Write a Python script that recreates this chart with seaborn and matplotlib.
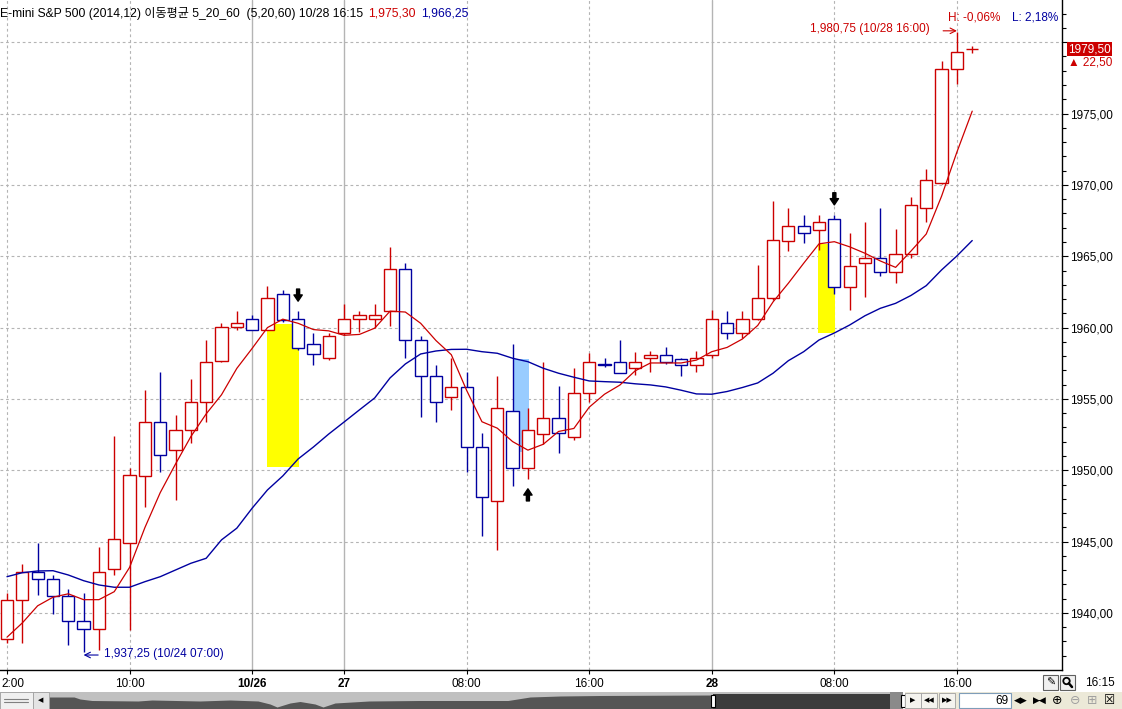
import numpy as np
import pandas as pd
import matplotlib
matplotlib.use('Agg')
import matplotlib.pyplot as plt
from matplotlib.patches import Rectangle, Circle
from matplotlib.transforms import ScaledTranslation
from matplotlib import font_manager
import seaborn as sns

# E-mini S&P 500 (2014.12), hourly bars 10/24 02:00 .. 10/28 16:15
opens = [1938.2, 1940.9, 1942.9, 1942.35,
         1941.2, 1939.4, 1938.85, 1943.1, 1944.9,
         1949.6, 1953.35, 1951.4, 1952.85, 1954.8,
         1957.65, 1960.05, 1960.6, 1959.85, 1962.35,
         1960.6, 1958.85, 1957.85, 1959.6, 1960.6,
         1960.6, 1961.15, 1964.1, 1959.15, 1956.6,
         1955.1, 1955.85, 1951.6, 1947.85, 1954.15,
         1950.15, 1952.55, 1953.65, 1952.35, 1955.4,
         1957.42, 1957.6, 1957.15, 1957.85, 1958.1,
         1957.8, 1957.4, 1958.1, 1960.35, 1959.6,
         1960.6, 1962.1, 1966.1, 1967.1, 1966.85,
         1967.6, 1962.85, 1964.55, 1964.85, 1963.9,
         1965.15, 1968.35, 1970.1, 1978.1, 1979.5]
highs = [1941.4, 1943.4, 1944.9, 1942.65,
         1941.65, 1941.4, 1944.6, 1952.4, 1950.15,
         1955.6, 1956.9, 1953.9, 1956.4, 1959.1,
         1960.35, 1961.15, 1960.9, 1962.9, 1962.65,
         1961.15, 1959.6, 1959.6, 1961.65, 1961.15,
         1961.65, 1965.65, 1964.55, 1959.4, 1957.4,
         1957.85, 1956.9, 1952.6, 1956.6, 1958.85,
         1954.35, 1957.6, 1955.9, 1957.15, 1958.2,
         1957.9, 1959.1, 1958.3, 1958.35, 1958.65,
         1957.85, 1958.35, 1961.2, 1961.15, 1961.15,
         1964.4, 1968.85, 1968.35, 1967.9, 1967.9,
         1967.9, 1966.65, 1967.4, 1968.35, 1966.9,
         1969.15, 1971.1, 1978.65, 1980.75, 1979.75]
lows = [1937.9, 1937.9, 1941.25, 1939.9,
        1937.75, 1937.25, 1937.4, 1942.65, 1938.8,
        1947.45, 1949.85, 1947.95, 1951.9, 1953.4,
        1957.6, 1959.85, 1959.85, 1959.8, 1960.4,
        1958.4, 1957.4, 1957.7, 1959.5, 1959.7,
        1959.95, 1960.1, 1957.9, 1953.7, 1953.4,
        1954.25, 1949.9, 1945.4, 1944.4, 1948.9,
        1949.4, 1951.85, 1951.2, 1952.15, 1954.8,
        1957.25, 1956.85, 1956.65, 1956.9, 1957.45,
        1956.6, 1956.9, 1957.9, 1959.2, 1959.25,
        1960.5, 1961.9, 1965.4, 1965.9, 1965.45,
        1962.35, 1961.25, 1962.15, 1963.65, 1963.15,
        1964.85, 1967.4, 1970.05, 1977.1, 1979.25]
closes = [1940.9, 1942.85, 1942.35, 1941.2,
          1939.4, 1938.85, 1942.85, 1945.15, 1949.65,
          1953.35, 1951.1, 1952.85, 1954.8, 1957.6,
          1960.05, 1960.35, 1959.85, 1962.1, 1960.55,
          1958.6, 1958.15, 1959.4, 1960.6, 1960.85,
          1960.85, 1964.1, 1959.15, 1956.6, 1954.8,
          1955.85, 1951.6, 1948.1, 1954.35, 1950.15,
          1952.85, 1953.65, 1952.6, 1955.4, 1957.6,
          1957.38, 1956.85, 1957.6, 1958.1, 1957.6,
          1957.4, 1957.85, 1960.6, 1959.6, 1960.6,
          1962.1, 1966.15, 1967.1, 1966.6, 1967.4,
          1962.85, 1964.35, 1964.85, 1963.9, 1965.15,
          1968.6, 1970.35, 1978.1, 1979.35, 1979.5]
ma5 = [1938.3, 1939.3, 1940.5, 1941.1,
       1941.34, 1940.93, 1940.93, 1941.49, 1943.19,
       1945.98, 1948.43, 1950.44, 1952.36, 1953.95,
       1955.29, 1957.14, 1958.54, 1960.00, 1960.59,
       1960.30, 1959.86, 1959.77, 1959.46, 1959.52,
       1959.96, 1961.15, 1961.09, 1960.30, 1959.09,
       1958.10, 1955.60, 1953.40, 1952.95, 1952.01,
       1951.41, 1951.82, 1952.72, 1952.93, 1954.42,
       1955.33, 1955.97, 1956.97, 1957.52, 1957.52,
       1957.52, 1957.72, 1958.31, 1958.61, 1959.20,
       1960.15, 1961.80, 1963.11, 1964.51, 1965.87,
       1966.02, 1965.66, 1965.21, 1964.67, 1964.22,
       1965.36, 1966.56, 1969.21, 1972.30, 1975.17]
ma20 = [1942.54, 1942.82, 1942.94, 1942.96,
        1942.66, 1942.26, 1941.96, 1941.80, 1941.80,
        1942.19, 1942.54, 1943.01, 1943.48, 1943.83,
        1945.12, 1945.94, 1947.34, 1948.62, 1949.60,
        1950.79, 1951.63, 1952.54, 1953.38, 1954.23,
        1955.07, 1956.47, 1957.45, 1958.15, 1958.36,
        1958.47, 1958.48, 1958.31, 1958.20, 1957.85,
        1957.61, 1957.15, 1956.80, 1956.52, 1956.26,
        1956.21, 1956.17, 1956.06, 1955.98, 1955.84,
        1955.61, 1955.35, 1955.33, 1955.52, 1955.80,
        1956.12, 1956.80, 1957.68, 1958.31, 1959.13,
        1959.62, 1960.18, 1960.83, 1961.35, 1961.70,
        1962.25, 1962.94, 1964.04, 1965.02, 1966.10]

tick_pos = [0, 8, 16, 22, 30, 38, 46, 54, 62]
tick_labels = ['2:00', '10:00', '10/26', '27', '08:00', '16:00', '28', '08:00', '16:00']
day_ticks = ['10/26', '27', '28']
price_ticks = [1940, 1945, 1950, 1955, 1960, 1965, 1970, 1975, 1980]

# (first bar, last bar, low, high, colour)
signal_zones = [(17.0, 19.05, 1950.2, 1960.25, '#ffff00'),
                (33.0, 34.05, 1951.25, 1957.8, '#99ccff'),
                (52.95, 54.05, 1959.6, 1965.85, '#ffff00')]
signal_arrows = [(19, 'down'), (34, 'up'), (54, 'down')]
hi_time, lo_time = '10/28 16:00', '10/24 07:00'
change = 22.50

RED = '#cc0000'
BLUE = '#0000a0'
GRID = '#b4b4b4'
FS = 8.5

sns.set_style('white')
plt.rcParams['font.family'] = ['Liberation Sans', 'Noto Sans CJK KR', 'DejaVu Sans']
plt.rcParams['text.color'] = 'black'

W, H = 1122, 709
fig = plt.figure(figsize=(W / 100, H / 100), dpi=100)
ax = fig.add_axes([0, 39 / H, 1062 / W, 670 / H])


def kfmt(v, sep=True):
    s = f'{v:,.2f}' if sep else f'{v:.2f}'
    return s.replace('.', ',')


df = pd.DataFrame({'open': opens, 'high': highs, 'low': lows, 'close': closes,
                   'ma5': ma5, 'ma20': ma20})
df['bar'] = np.arange(len(df))
colors = np.where(df['close'] >= df['open'], RED, BLUE)

for x0, x1, y0, y1, c in signal_zones:
    ax.add_patch(Rectangle((x0, y0), x1 - x0, y1 - y0, facecolor=c,
                           edgecolor='none', zorder=1))

ax.vlines(df['bar'], df['low'], df['high'], colors=colors, lw=1, zorder=2)
body = np.maximum((df['close'] - df['open']).abs(), 0.01)
ax.bar(df['bar'], body, bottom=df[['open', 'close']].min(axis=1), width=0.8,
       facecolor='white', edgecolor=colors, linewidth=1, zorder=2.5)

sns.lineplot(data=df, x='bar', y='ma20', color=BLUE, lw=1.0, ax=ax, zorder=3)
sns.lineplot(data=df, x='bar', y='ma5', color=RED, lw=0.9, ax=ax, zorder=3)

for i, kind in signal_arrows:
    if kind == 'down':
        tip, tail = highs[i] + 0.7, highs[i] + 1.55
    else:
        tip, tail = lows[i] - 0.7, lows[i] - 1.55
    ax.annotate('', xy=(i, tip), xytext=(i, tail),
                arrowprops=dict(arrowstyle='simple,head_length=0.45,head_width=0.6,tail_width=0.22',
                                color='black', shrinkA=0, shrinkB=0), zorder=4)

# grid
for p, lab in zip(tick_pos, tick_labels):
    if lab in day_ticks:
        ax.axvline(p, color=GRID, lw=1, zorder=0)
    else:
        ax.axvline(p, color=GRID, lw=0.8, ls=(0, (2.5, 2.5)), zorder=0)
for y in price_ticks:
    ax.axhline(y, color=GRID, lw=0.8, ls=(0, (2.5, 2.5)), zorder=0)

ax.set_xlim(-0.457, 68.86)
ax.set_ylim(1936.0, 1982.96)
ax.set_xlabel('')
ax.set_ylabel('')
ax.yaxis.tick_right()
ax.set_yticks(price_ticks)
ax.set_yticklabels([kfmt(v, False) for v in price_ticks[:-1]] + [''])
ax.set_yticks(np.arange(1937, 1983), minor=True)
ax.tick_params(axis='y', which='major', direction='out', length=4, width=0.8,
               labelsize=FS, pad=1.5, right=True, left=False, colors='black')
ax.tick_params(axis='y', which='minor', direction='out', length=3, width=0.8,
               right=True, left=False, colors='black')
ax.set_xticks(tick_pos)
ax.set_xticklabels(tick_labels)
ax.tick_params(axis='x', direction='out', length=3, width=0.8, labelsize=FS,
               pad=3, bottom=True, colors='black')
for t in ax.get_xticklabels():
    if t.get_text() in day_ticks:
        t.set_fontweight('bold')
first = ax.get_xticklabels()[0]
first.set_horizontalalignment('left')
first.set_transform(first.get_transform() + ScaledTranslation(-6 / 100, 0, fig.dpi_scale_trans))
for s in ['left', 'top']:
    ax.spines[s].set_visible(False)
for s in ['right', 'bottom']:
    ax.spines[s].set_color('black')
    ax.spines[s].set_linewidth(1)

# high / low marks
hi_i = int(np.argmax(highs))
lo_i = int(np.argmin(lows))
hy = highs[hi_i] + 0.05
ax.annotate('', xy=(hi_i, hy), xytext=(hi_i - 0.9, hy),
            arrowprops=dict(arrowstyle='->', color=RED, lw=0.8, shrinkA=0, shrinkB=0))
ax.text(hi_i - 1.75, hy + 0.12, f'{kfmt(highs[hi_i])} ({hi_time})', color=RED,
        ha='right', va='center', fontsize=FS)
ly = lows[lo_i] - 0.2
ax.annotate('', xy=(lo_i, ly), xytext=(lo_i + 0.95, ly),
            arrowprops=dict(arrowstyle='->', color=BLUE, lw=0.8, shrinkA=0, shrinkB=0))
ax.text(lo_i + 1.33, ly + 0.06, f'{kfmt(lows[lo_i])} ({lo_time})', color=BLUE,
        ha='left', va='center', fontsize=FS)

last = closes[-1]
ytr = ax.get_yaxis_transform()
ax.text(1.0057, last, kfmt(last, False), transform=ytr, color='white', fontsize=FS,
        ha='left', va='center',
        bbox=dict(boxstyle='square,pad=0.08', fc=RED, ec='none'))
ax.text(1.0057, last - 0.9, f'▲ {kfmt(change)}', transform=ytr, color=RED,
        fontsize=FS, ha='left', va='center')

# header
hdr = fig.text(0, 1 - 13 / H,
               'E-mini S&P 500 (2014,12) 이동평균 5_20_60  (5,20,60) 10/28 16:15',
               fontsize=8.7, va='center', ha='left')
t2 = ax.annotate(kfmt(ma5[-1] + 0.13), xy=(1, 0.5), xycoords=hdr, xytext=(5, 0),
                 textcoords='offset pixels', va='center', color=RED, fontsize=8.7)
ax.annotate(kfmt(ma20[-1] + 0.15), xy=(1, 0.5), xycoords=t2, xytext=(5, 0),
            textcoords='offset pixels', va='center', color=BLUE, fontsize=8.7)

h_pct = (last - max(highs)) / max(highs) * 100
l_pct = (last - min(lows)) / min(lows) * 100
fig.text(948 / W, 1 - 17 / H, f'H: {kfmt(h_pct)}%', color=RED, fontsize=FS, va='center')
fig.text(1012 / W, 1 - 17 / H, f'L: {kfmt(l_pct)}%', color=BLUE, fontsize=FS, va='center')

# window chrome: scroll strip and buttons (pixel coordinates)
ui = fig.add_axes([0, 0, 1, 1], zorder=5)
ui.set_xlim(0, W)
ui.set_ylim(H, 0)
ui.axis('off')
ui.set_facecolor('none')

scroll_x = [49, 74, 80, 92, 138, 152, 200, 230, 258, 270, 277, 290, 300, 315, 323,
            335, 369, 420, 508, 530, 560, 600, 713, 760, 890]
scroll_y = [697, 697, 699, 700.5, 701, 700, 701, 700, 701, 704, 707, 703, 701.5, 704,
            707, 703, 701, 700.5, 700.5, 697, 696, 695.5, 695, 694, 693.5]
ui.add_patch(Rectangle((0, 692), 903, 17, fc='#c0c0c0', ec='none'))
ui.fill_between(scroll_x, scroll_y, 709, color='#555555', lw=0)
ui.add_patch(Rectangle((713, 693.8), 177, 15.2, fc='#3c3c3c', ec='none'))
ui.add_patch(Rectangle((890, 692), 13, 17, fc='#8a8a8a', ec='none'))
ui.add_patch(Rectangle((0, 692), 33, 17, fc='#f0f0f0', ec='#a0a0a0', lw=0.6))
ui.plot([4, 28], [699, 699], color='#808080', lw=0.8)
ui.plot([4, 28], [702, 702], color='#808080', lw=0.8)
ui.add_patch(Rectangle((33, 692), 16, 17, fc='#e4e4e4', ec='#a0a0a0', lw=0.6))
ui.text(41, 700.5, '◀', fontsize=5, ha='center', va='center', family='DejaVu Sans')
for hx in (711, 901):
    ui.add_patch(Rectangle((hx, 695), 4, 12, fc='white', ec='black', lw=0.8))
ui.add_patch(Rectangle((905, 692), 217, 17, fc='#ece9d8', ec='none'))
for bx, sym in [(913, '▶'), (929, '◀◀'), (947, '▶▶')]:
    ui.add_patch(Rectangle((bx - 8, 693), 16, 15, fc='#f4f3ee', ec='#a0a0a0', lw=0.6))
    ui.text(bx, 700.5, sym, fontsize=5, ha='center', va='center', family='DejaVu Sans')
ui.add_patch(Rectangle((959, 693), 52, 15, fc='white', ec='#7f9db9', lw=0.8))
ui.text(1009, 700.5, '69', fontsize=FS, ha='right', va='center')
for bx, sym, col in [(1021, '◀▶', 'black'), (1040, '▶◀', 'black'), (1057, '⊕', 'black'),
                     (1075, '⊖', '#a0a0a0'), (1092, '⊞', '#a0a0a0'), (1110, '☒', 'black')]:
    ui.text(bx, 700.5, sym, fontsize=9 if len(sym) == 1 else 6.5, ha='center',
            va='center', color=col, family='DejaVu Sans')
ui.add_patch(Rectangle((1043, 675), 15, 15, fc='#f0f0f0', ec='#606060', lw=0.8))
ui.text(1050.5, 682.5, '✎', fontsize=8, ha='center', va='center', family='DejaVu Sans')
ui.add_patch(Rectangle((1060, 675), 15, 15, fc='#f0f0f0', ec='#606060', lw=0.8))
ui.add_patch(Circle((1066.5, 681), 3.2, fill=False, ec='black', lw=1.3))
ui.plot([1068.8, 1072], [683.3, 687], color='black', lw=1.8)
ui.text(1099.5, 683, '16:15', fontsize=FS, ha='center', va='center')

fig.savefig('out.png', dpi=100)
